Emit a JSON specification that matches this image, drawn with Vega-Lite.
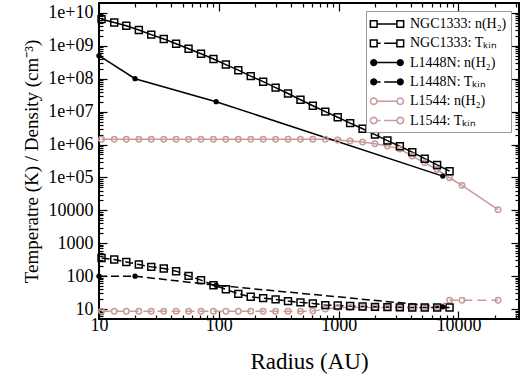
{
  "$schema": "https://vega.github.io/schema/vega-lite/v6.json",
  "width": 420,
  "height": 316,
  "autosize": "none",
  "padding": {"left": 99, "top": 3, "right": 8, "bottom": 55},
  "config": {
    "view": {"stroke": "#000", "strokeWidth": 2},
    "font": "Liberation Serif",
    "axis": {"grid": false, "domain": false, "tickColor": "#000", "labelColor": "#000", "titleColor": "#000", "labelFont": "Liberation Serif", "titleFont": "Liberation Serif", "titleFontWeight": "normal", "tickWidth": 1.2, "labelFlush": false}
  },
  "data": {"values": [
    {"s": "NGC1333: n(H₂)", "r": 10.5, "v": 6.46e9}, {"s": "NGC1333: n(H₂)", "r": 13.4, "v": 5.13e9}, {"s": "NGC1333: n(H₂)", "r": 16.9, "v": 4.07e9}, {"s": "NGC1333: n(H₂)", "r": 21.5, "v": 3.02e9}, {"s": "NGC1333: n(H₂)", "r": 27.3, "v": 2.19e9}, {"s": "NGC1333: n(H₂)", "r": 34.7, "v": 1.62e9}, {"s": "NGC1333: n(H₂)", "r": 44.0, "v": 1.15e9}, {"s": "NGC1333: n(H₂)", "r": 55.9, "v": 8.13e8}, {"s": "NGC1333: n(H₂)", "r": 71.0, "v": 5.75e8}, {"s": "NGC1333: n(H₂)", "r": 90.2, "v": 3.98e8}, {"s": "NGC1333: n(H₂)", "r": 114.5, "v": 2.69e8}, {"s": "NGC1333: n(H₂)", "r": 145.4, "v": 1.82e8}, {"s": "NGC1333: n(H₂)", "r": 184.6, "v": 1.2e8}, {"s": "NGC1333: n(H₂)", "r": 234.4, "v": 8.13e7}, {"s": "NGC1333: n(H₂)", "r": 297.7, "v": 5.37e7}, {"s": "NGC1333: n(H₂)", "r": 378, "v": 3.55e7}, {"s": "NGC1333: n(H₂)", "r": 480, "v": 2.29e7}, {"s": "NGC1333: n(H₂)", "r": 609, "v": 1.51e7}, {"s": "NGC1333: n(H₂)", "r": 774, "v": 1.0e7}, {"s": "NGC1333: n(H₂)", "r": 982, "v": 6.76e6}, {"s": "NGC1333: n(H₂)", "r": 1247, "v": 4.47e6}, {"s": "NGC1333: n(H₂)", "r": 1584, "v": 3.02e6}, {"s": "NGC1333: n(H₂)", "r": 2011, "v": 2.0e6}, {"s": "NGC1333: n(H₂)", "r": 2553, "v": 1.32e6}, {"s": "NGC1333: n(H₂)", "r": 3242, "v": 8.9e5}, {"s": "NGC1333: n(H₂)", "r": 4116, "v": 5.89e5}, {"s": "NGC1333: n(H₂)", "r": 5226, "v": 3.72e5}, {"s": "NGC1333: n(H₂)", "r": 6636, "v": 2.4e5}, {"s": "NGC1333: n(H₂)", "r": 8430, "v": 1.55e5},
    {"s": "NGC1333: Tₖᵢₙ", "r": 10.5, "v": 359}, {"s": "NGC1333: Tₖᵢₙ", "r": 13.4, "v": 321}, {"s": "NGC1333: Tₖᵢₙ", "r": 16.9, "v": 271}, {"s": "NGC1333: Tₖᵢₙ", "r": 21.5, "v": 226}, {"s": "NGC1333: Tₖᵢₙ", "r": 27.3, "v": 192}, {"s": "NGC1333: Tₖᵢₙ", "r": 34.7, "v": 171}, {"s": "NGC1333: Tₖᵢₙ", "r": 44.0, "v": 142}, {"s": "NGC1333: Tₖᵢₙ", "r": 55.9, "v": 102}, {"s": "NGC1333: Tₖᵢₙ", "r": 71.0, "v": 76}, {"s": "NGC1333: Tₖᵢₙ", "r": 90.2, "v": 53}, {"s": "NGC1333: Tₖᵢₙ", "r": 114.5, "v": 40}, {"s": "NGC1333: Tₖᵢₙ", "r": 145.4, "v": 29}, {"s": "NGC1333: Tₖᵢₙ", "r": 184.6, "v": 23.6}, {"s": "NGC1333: Tₖᵢₙ", "r": 234.4, "v": 21.5}, {"s": "NGC1333: Tₖᵢₙ", "r": 297.7, "v": 19.7}, {"s": "NGC1333: Tₖᵢₙ", "r": 378, "v": 17.5}, {"s": "NGC1333: Tₖᵢₙ", "r": 480, "v": 16}, {"s": "NGC1333: Tₖᵢₙ", "r": 609, "v": 14.9}, {"s": "NGC1333: Tₖᵢₙ", "r": 774, "v": 13.2}, {"s": "NGC1333: Tₖᵢₙ", "r": 982, "v": 12.8}, {"s": "NGC1333: Tₖᵢₙ", "r": 1247, "v": 12.4}, {"s": "NGC1333: Tₖᵢₙ", "r": 1584, "v": 12}, {"s": "NGC1333: Tₖᵢₙ", "r": 2011, "v": 11.7}, {"s": "NGC1333: Tₖᵢₙ", "r": 2553, "v": 11.5}, {"s": "NGC1333: Tₖᵢₙ", "r": 3242, "v": 11.3}, {"s": "NGC1333: Tₖᵢₙ", "r": 4116, "v": 11.2}, {"s": "NGC1333: Tₖᵢₙ", "r": 5226, "v": 11.2}, {"s": "NGC1333: Tₖᵢₙ", "r": 6636, "v": 11.2}, {"s": "NGC1333: Tₖᵢₙ", "r": 8430, "v": 11.2},
    {"s": "L1448N: n(H₂)", "r": 10, "v": 5e8}, {"s": "L1448N: n(H₂)", "r": 20, "v": 1e8}, {"s": "L1448N: n(H₂)", "r": 95, "v": 2e7}, {"s": "L1448N: n(H₂)", "r": 7400, "v": 1.1e5},
    {"s": "L1448N: Tₖᵢₙ", "r": 10, "v": 100}, {"s": "L1448N: Tₖᵢₙ", "r": 20, "v": 100}, {"s": "L1448N: Tₖᵢₙ", "r": 95, "v": 53}, {"s": "L1448N: Tₖᵢₙ", "r": 7400, "v": 11.7},
    {"s": "L1544: n(H₂)", "r": 10.5, "v": 1.45e6}, {"s": "L1544: n(H₂)", "r": 13.4, "v": 1.45e6}, {"s": "L1544: n(H₂)", "r": 16.9, "v": 1.45e6}, {"s": "L1544: n(H₂)", "r": 21.5, "v": 1.45e6}, {"s": "L1544: n(H₂)", "r": 27.3, "v": 1.45e6}, {"s": "L1544: n(H₂)", "r": 34.7, "v": 1.45e6}, {"s": "L1544: n(H₂)", "r": 44.0, "v": 1.45e6}, {"s": "L1544: n(H₂)", "r": 55.9, "v": 1.45e6}, {"s": "L1544: n(H₂)", "r": 71.0, "v": 1.45e6}, {"s": "L1544: n(H₂)", "r": 90.2, "v": 1.45e6}, {"s": "L1544: n(H₂)", "r": 114.5, "v": 1.45e6}, {"s": "L1544: n(H₂)", "r": 145.4, "v": 1.45e6}, {"s": "L1544: n(H₂)", "r": 184.6, "v": 1.45e6}, {"s": "L1544: n(H₂)", "r": 234.4, "v": 1.45e6}, {"s": "L1544: n(H₂)", "r": 297.7, "v": 1.45e6}, {"s": "L1544: n(H₂)", "r": 378, "v": 1.45e6}, {"s": "L1544: n(H₂)", "r": 480, "v": 1.45e6}, {"s": "L1544: n(H₂)", "r": 609, "v": 1.45e6}, {"s": "L1544: n(H₂)", "r": 774, "v": 1.44e6}, {"s": "L1544: n(H₂)", "r": 982, "v": 1.38e6}, {"s": "L1544: n(H₂)", "r": 1247, "v": 1.28e6}, {"s": "L1544: n(H₂)", "r": 1584, "v": 1.2e6}, {"s": "L1544: n(H₂)", "r": 2011, "v": 1.05e6}, {"s": "L1544: n(H₂)", "r": 2553, "v": 9.1e5}, {"s": "L1544: n(H₂)", "r": 3242, "v": 7.3e5}, {"s": "L1544: n(H₂)", "r": 4116, "v": 4.47e5}, {"s": "L1544: n(H₂)", "r": 5226, "v": 2.8e5}, {"s": "L1544: n(H₂)", "r": 6636, "v": 1.74e5}, {"s": "L1544: n(H₂)", "r": 8430, "v": 9.8e4}, {"s": "L1544: n(H₂)", "r": 10700, "v": 5.75e4}, {"s": "L1544: n(H₂)", "r": 21400, "v": 1.05e4},
    {"s": "L1544: Tₖᵢₙ", "r": 10.5, "v": 8.6}, {"s": "L1544: Tₖᵢₙ", "r": 13.4, "v": 8.6}, {"s": "L1544: Tₖᵢₙ", "r": 16.9, "v": 8.6}, {"s": "L1544: Tₖᵢₙ", "r": 21.5, "v": 8.6}, {"s": "L1544: Tₖᵢₙ", "r": 27.3, "v": 8.6}, {"s": "L1544: Tₖᵢₙ", "r": 34.7, "v": 8.6}, {"s": "L1544: Tₖᵢₙ", "r": 44.0, "v": 8.6}, {"s": "L1544: Tₖᵢₙ", "r": 55.9, "v": 8.6}, {"s": "L1544: Tₖᵢₙ", "r": 71.0, "v": 8.6}, {"s": "L1544: Tₖᵢₙ", "r": 90.2, "v": 8.6}, {"s": "L1544: Tₖᵢₙ", "r": 114.5, "v": 8.6}, {"s": "L1544: Tₖᵢₙ", "r": 145.4, "v": 8.6}, {"s": "L1544: Tₖᵢₙ", "r": 184.6, "v": 8.6}, {"s": "L1544: Tₖᵢₙ", "r": 234.4, "v": 8.6}, {"s": "L1544: Tₖᵢₙ", "r": 297.7, "v": 8.6}, {"s": "L1544: Tₖᵢₙ", "r": 378, "v": 8.6}, {"s": "L1544: Tₖᵢₙ", "r": 480, "v": 8.6}, {"s": "L1544: Tₖᵢₙ", "r": 609, "v": 8.7}, {"s": "L1544: Tₖᵢₙ", "r": 774, "v": 10}, {"s": "L1544: Tₖᵢₙ", "r": 982, "v": 11.2}, {"s": "L1544: Tₖᵢₙ", "r": 1247, "v": 11.2}, {"s": "L1544: Tₖᵢₙ", "r": 1584, "v": 11.2}, {"s": "L1544: Tₖᵢₙ", "r": 2011, "v": 11.2}, {"s": "L1544: Tₖᵢₙ", "r": 2553, "v": 11.2}, {"s": "L1544: Tₖᵢₙ", "r": 3242, "v": 11.2}, {"s": "L1544: Tₖᵢₙ", "r": 4116, "v": 11.2}, {"s": "L1544: Tₖᵢₙ", "r": 5226, "v": 11.2}, {"s": "L1544: Tₖᵢₙ", "r": 6636, "v": 11.2}, {"s": "L1544: Tₖᵢₙ", "r": 8430, "v": 18.5}, {"s": "L1544: Tₖᵢₙ", "r": 10700, "v": 18.5}, {"s": "L1544: Tₖᵢₙ", "r": 21400, "v": 18.5}
  ]},
  "resolve": {"axis": {"x": "independent", "y": "independent"}},
  "layer": [
    {
      "transform": [{"filter": "indexof(datum.s, 'L1544') == 0 && indexof(datum.s, 'n(H') >= 0"}],
      "mark": {"type": "line", "strokeWidth": 1.5, "color": "#c99a9a"},
      "encoding": {
        "x": {"field": "r", "type": "quantitative", "scale": {"type": "log", "domain": [10, 32000]},
          "axis": {"orient": "bottom", "values": [10, 100, 1000, 10000], "format": "d", "tickSize": -8, "labelPadding": 5, "labelFontSize": 18, "labelFont": "Liberation Serif", "labelFlush": false, "title": "Radius (AU)", "titleFont": "Liberation Serif", "titleFontWeight": "normal", "titleFontSize": 23, "titlePadding": 16}},
        "y": {"field": "v", "type": "quantitative", "scale": {"type": "log", "domain": [5, 2e10]},
          "axis": {"orient": "left", "values": [10, 100, 1000, 10000, 100000, 1000000, 10000000, 100000000, 1000000000, 10000000000], "labelExpr": "datum.value >= 1e5 ? (datum.value >= 1e10 ? '1e+10' : '1e+0' + round(log(datum.value)/LN10)) : format(datum.value, 'd')", "tickSize": -8, "labelPadding": 14, "labelFontSize": 18, "labelFont": "Liberation Serif", "labelFlush": false, "title": "Temperatre (K) / Density (cm⁻³)", "titleFont": "Liberation Serif", "titleFontWeight": "normal", "titleFontSize": 19, "titlePadding": 6}}
      }
    },
    {
      "transform": [{"filter": "indexof(datum.s, 'L1544') == 0 && indexof(datum.s, 'n(H') < 0"}],
      "mark": {"type": "line", "strokeWidth": 1.5, "color": "#c99a9a", "strokeDash": [9, 5]},
      "encoding": {
        "x": {"field": "r", "type": "quantitative", "scale": {"type": "log", "domain": [10, 32000]},
          "axis": {"orient": "top", "values": [10, 100, 1000, 10000], "labels": false, "tickSize": -8, "title": null}},
        "y": {"field": "v", "type": "quantitative", "scale": {"type": "log", "domain": [5, 2e10]},
          "axis": {"orient": "right", "values": [10, 100, 1000, 10000, 100000, 1000000, 10000000, 100000000, 1000000000, 10000000000], "labels": false, "tickSize": -8, "title": null}}
      }
    },
    {
      "transform": [{"filter": "indexof(datum.s, 'L1544') < 0 && indexof(datum.s, 'n(H') >= 0"}],
      "mark": {"type": "line", "strokeWidth": 1.5, "color": "#000"},
      "encoding": {
        "x": {"field": "r", "type": "quantitative", "scale": {"type": "log", "domain": [10, 32000]},
          "axis": {"orient": "bottom", "values": [20, 30, 40, 50, 60, 70, 80, 90, 200, 300, 400, 500, 600, 700, 800, 900, 2000, 3000, 4000, 5000, 6000, 7000, 8000, 9000, 20000, 30000], "labels": false, "tickSize": -4, "title": null}},
        "y": {"field": "v", "type": "quantitative", "scale": {"type": "log", "domain": [5, 2e10]},
          "axis": {"orient": "left", "values": [6, 7, 8, 9, 20, 30, 40, 50, 60, 70, 80, 90, 200, 300, 400, 500, 600, 700, 800, 900, 2000, 3000, 4000, 5000, 6000, 7000, 8000, 9000, 20000, 30000, 40000, 50000, 60000, 70000, 80000, 90000, 200000, 300000, 400000, 500000, 600000, 700000, 800000, 900000, 2000000, 3000000, 4000000, 5000000, 6000000, 7000000, 8000000, 9000000, 20000000, 30000000, 40000000, 50000000, 60000000, 70000000, 80000000, 90000000, 200000000, 300000000, 400000000, 500000000, 600000000, 700000000, 800000000, 900000000, 2000000000, 3000000000, 4000000000, 5000000000, 6000000000, 7000000000, 8000000000, 9000000000], "labels": false, "tickSize": -4, "title": null}},
        "detail": {"field": "s", "type": "nominal"}
      }
    },
    {
      "transform": [{"filter": "indexof(datum.s, 'L1544') < 0 && indexof(datum.s, 'n(H') < 0"}],
      "mark": {"type": "line", "strokeWidth": 1.5, "color": "#000", "strokeDash": [8, 4]},
      "encoding": {
        "x": {"field": "r", "type": "quantitative", "scale": {"type": "log", "domain": [10, 32000]},
          "axis": {"orient": "top", "values": [20, 30, 40, 50, 60, 70, 80, 90, 200, 300, 400, 500, 600, 700, 800, 900, 2000, 3000, 4000, 5000, 6000, 7000, 8000, 9000, 20000, 30000], "labels": false, "tickSize": -4, "title": null}},
        "y": {"field": "v", "type": "quantitative", "scale": {"type": "log", "domain": [5, 2e10]},
          "axis": {"orient": "right", "values": [6, 7, 8, 9, 20, 30, 40, 50, 60, 70, 80, 90, 200, 300, 400, 500, 600, 700, 800, 900, 2000, 3000, 4000, 5000, 6000, 7000, 8000, 9000, 20000, 30000, 40000, 50000, 60000, 70000, 80000, 90000, 200000, 300000, 400000, 500000, 600000, 700000, 800000, 900000, 2000000, 3000000, 4000000, 5000000, 6000000, 7000000, 8000000, 9000000, 20000000, 30000000, 40000000, 50000000, 60000000, 70000000, 80000000, 90000000, 200000000, 300000000, 400000000, 500000000, 600000000, 700000000, 800000000, 900000000, 2000000000, 3000000000, 4000000000, 5000000000, 6000000000, 7000000000, 8000000000, 9000000000], "labels": false, "tickSize": -4, "title": null}},
        "detail": {"field": "s", "type": "nominal"}
      }
    },
    {
      "transform": [{"filter": "indexof(datum.s, 'L1544') == 0"}],
      "mark": {"type": "point", "shape": "circle", "size": 30, "strokeWidth": 1.5, "opacity": 1, "filled": false, "color": "#c99a9a"},
      "encoding": {
        "x": {"field": "r", "type": "quantitative", "scale": {"type": "log", "domain": [10, 32000]}, "axis": null},
        "y": {"field": "v", "type": "quantitative", "scale": {"type": "log", "domain": [5, 2e10]}, "axis": null}
      }
    },
    {
      "transform": [{"filter": "indexof(datum.s, 'NGC') == 0"}],
      "mark": {"type": "point", "shape": "square", "size": 48, "strokeWidth": 1.5, "opacity": 1, "filled": false, "color": "#000"},
      "encoding": {
        "x": {"field": "r", "type": "quantitative", "scale": {"type": "log", "domain": [10, 32000]}, "axis": null},
        "y": {"field": "v", "type": "quantitative", "scale": {"type": "log", "domain": [5, 2e10]}, "axis": null}
      }
    },
    {
      "transform": [{"filter": "indexof(datum.s, 'L1448N') == 0"}],
      "mark": {"type": "point", "shape": "circle", "size": 28, "strokeWidth": 1, "opacity": 1, "filled": true, "color": "#000"},
      "encoding": {
        "x": {"field": "r", "type": "quantitative", "scale": {"type": "log", "domain": [10, 32000]}, "axis": null},
        "y": {"field": "v", "type": "quantitative", "scale": {"type": "log", "domain": [5, 2e10]}, "axis": null}
      }
    },
    {
      "mark": {"type": "point", "strokeWidth": 1.5, "opacity": 0, "filled": false},
      "encoding": {
        "x": {"field": "r", "type": "quantitative", "scale": {"type": "log", "domain": [10, 32000]}, "axis": null},
        "y": {"field": "v", "type": "quantitative", "scale": {"type": "log", "domain": [5, 2e10]}, "axis": null},
        "shape": {"field": "s", "type": "nominal",
          "scale": {"domain": ["NGC1333: n(H₂)", "NGC1333: Tₖᵢₙ", "L1448N: n(H₂)", "L1448N: Tₖᵢₙ", "L1544: n(H₂)", "L1544: Tₖᵢₙ"],
            "range": [
              "M-2.08,-0.42L-1.24,-0.42L-1.24,0.42L-2.08,0.42ZM1.24,-0.42L2.08,-0.42L2.08,0.42L1.24,0.42ZM-1.24,0L1.24,0",
              "M-2.08,-0.42L-1.24,-0.42L-1.24,0.42L-2.08,0.42ZM1.24,-0.42L2.08,-0.42L2.08,0.42L1.24,0.42ZM-1.24,0L-0.8,0M-0.35,0L1.24,0",
              "M-1.3,0L-1.348,0.18L-1.48,0.312L-1.66,0.36L-1.84,0.312L-1.972,0.18L-2.02,0L-1.972,-0.18L-1.84,-0.312L-1.66,-0.36L-1.48,-0.312L-1.348,-0.18ZM2.02,0L1.972,0.18L1.84,0.312L1.66,0.36L1.48,0.312L1.348,0.18L1.3,0L1.348,-0.18L1.48,-0.312L1.66,-0.36L1.84,-0.312L1.972,-0.18ZM-1.3,0L1.3,0",
              "M-1.3,0L-1.348,0.18L-1.48,0.312L-1.66,0.36L-1.84,0.312L-1.972,0.18L-2.02,0L-1.972,-0.18L-1.84,-0.312L-1.66,-0.36L-1.48,-0.312L-1.348,-0.18ZM2.02,0L1.972,0.18L1.84,0.312L1.66,0.36L1.48,0.312L1.348,0.18L1.3,0L1.348,-0.18L1.48,-0.312L1.66,-0.36L1.84,-0.312L1.972,-0.18ZM-1.3,0L-0.8,0M-0.35,0L1.3,0",
              "M-1.25,0L-1.305,0.205L-1.455,0.355L-1.66,0.41L-1.865,0.355L-2.015,0.205L-2.07,0L-2.015,-0.205L-1.865,-0.355L-1.66,-0.41L-1.455,-0.355L-1.305,-0.205ZM2.07,0L2.015,0.205L1.865,0.355L1.66,0.41L1.455,0.355L1.305,0.205L1.25,0L1.305,-0.205L1.455,-0.355L1.66,-0.41L1.865,-0.355L2.015,-0.205ZM-1.25,0L1.25,0",
              "M-1.25,0L-1.305,0.205L-1.455,0.355L-1.66,0.41L-1.865,0.355L-2.015,0.205L-2.07,0L-2.015,-0.205L-1.865,-0.355L-1.66,-0.41L-1.455,-0.355L-1.305,-0.205ZM2.07,0L2.015,0.205L1.865,0.355L1.66,0.41L1.455,0.355L1.305,0.205L1.25,0L1.305,-0.205L1.455,-0.355L1.66,-0.41L1.865,-0.355L2.015,-0.205ZM-1.25,0L-0.8,0M-0.35,0L1.25,0"
            ]},
          "legend": {"title": null, "orient": "top-right", "offset": 8, "padding": 4, "symbolSize": 256, "symbolStrokeWidth": 1.5, "symbolOpacity": 1, "symbolOffset": 8, "labelOffset": 14, "labelFontSize": 14, "labelFont": "Liberation Serif", "labelColor": "#000", "rowPadding": 3.3, "strokeColor": "#999", "fillColor": "#fff", "labelLimit": 300}},
        "fill": {"field": "s", "type": "nominal",
          "scale": {"domain": ["NGC1333: n(H₂)", "NGC1333: Tₖᵢₙ", "L1448N: n(H₂)", "L1448N: Tₖᵢₙ", "L1544: n(H₂)", "L1544: Tₖᵢₙ"], "range": ["transparent", "transparent", "#000", "#000", "transparent", "transparent"]},
          "legend": {"title": null, "orient": "top-right", "offset": 8, "padding": 4, "symbolSize": 256, "symbolStrokeWidth": 1.5, "symbolOpacity": 1, "symbolOffset": 8, "labelOffset": 14, "labelFontSize": 14, "labelFont": "Liberation Serif", "labelColor": "#000", "rowPadding": 3.3, "strokeColor": "#999", "fillColor": "#fff", "labelLimit": 300}},
        "stroke": {"field": "s", "type": "nominal",
          "scale": {"domain": ["NGC1333: n(H₂)", "NGC1333: Tₖᵢₙ", "L1448N: n(H₂)", "L1448N: Tₖᵢₙ", "L1544: n(H₂)", "L1544: Tₖᵢₙ"], "range": ["#000", "#000", "#000", "#000", "#c99a9a", "#c99a9a"]},
          "legend": {"title": null, "orient": "top-right", "offset": 8, "padding": 4, "symbolSize": 256, "symbolStrokeWidth": 1.5, "symbolOpacity": 1, "symbolOffset": 8, "labelOffset": 14, "labelFontSize": 14, "labelFont": "Liberation Serif", "labelColor": "#000", "rowPadding": 3.3, "strokeColor": "#999", "fillColor": "#fff", "labelLimit": 300}}
      }
    }
  ]
}
